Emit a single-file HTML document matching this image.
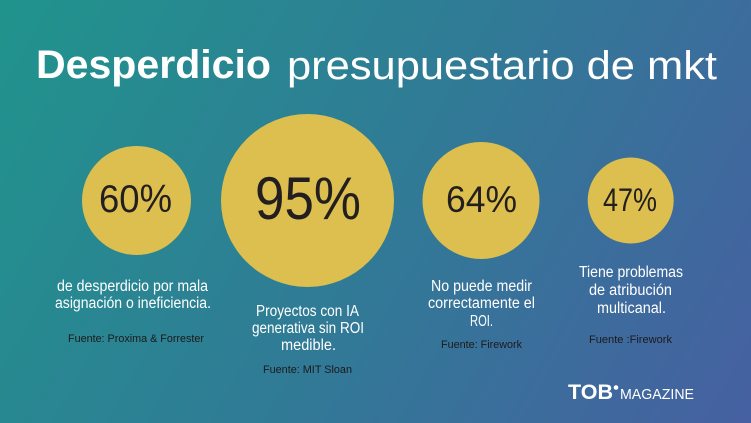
<!DOCTYPE html>
<html>
<head>
<meta charset="utf-8">
<style>
  html,body{margin:0;padding:0;width:751px;height:423px;overflow:hidden;}
  svg{display:block;}
  text{font-family:"Liberation Sans",Arial,sans-serif;}
</style>
</head>
<body>
<svg width="751" height="423" viewBox="0 0 751 423" xmlns="http://www.w3.org/2000/svg">
  <defs>
    <linearGradient id="bg" x1="0" y1="0" x2="751" y2="423" gradientUnits="userSpaceOnUse">
      <stop offset="0" stop-color="#20948c"/>
      <stop offset="0.5" stop-color="#307b96"/>
      <stop offset="1" stop-color="#4660a1"/>
    </linearGradient>
  </defs>
  <rect x="0" y="0" width="751" height="423" fill="url(#bg)"/>

  <!-- Title -->
  <text x="36" y="78" font-size="40" font-weight="bold" fill="#ffffff" textLength="235" lengthAdjust="spacingAndGlyphs">Desperdicio</text>
  <text x="287" y="79" font-size="40" fill="#ffffff" textLength="430" lengthAdjust="spacingAndGlyphs">presupuestario de mkt</text>

  <!-- Circles -->
  <circle cx="136.5" cy="200.5" r="54.5" fill="#dcbf4e"/>
  <circle cx="307.5" cy="200.5" r="86.5" fill="#dcbf4e"/>
  <circle cx="481" cy="200.5" r="58.5" fill="#dcbf4e"/>
  <circle cx="630.7" cy="200.5" r="43" fill="#dcbf4e"/>

  <!-- Percentages -->
  <text x="99" y="212" font-size="39" fill="#231f20" textLength="73" lengthAdjust="spacingAndGlyphs">60%</text>
  <text x="255" y="219" font-size="60" fill="#231f20" textLength="106" lengthAdjust="spacingAndGlyphs">95%</text>
  <text x="446" y="212" font-size="37" fill="#231f20" textLength="71" lengthAdjust="spacingAndGlyphs">64%</text>
  <text x="603" y="211" font-size="32" fill="#231f20" textLength="54" lengthAdjust="spacingAndGlyphs">47%</text>

  <!-- Block 1 -->
  <text x="57" y="291" font-size="15.5" fill="#ffffff" textLength="151" lengthAdjust="spacingAndGlyphs">de desperdicio por mala</text>
  <text x="55" y="308" font-size="15.5" fill="#ffffff" textLength="156" lengthAdjust="spacingAndGlyphs">asignación o ineficiencia.</text>
  <text x="68" y="342" font-size="11" fill="#1c1a1b" textLength="136" lengthAdjust="spacingAndGlyphs">Fuente: Proxima &amp; Forrester</text>

  <!-- Block 2 -->
  <text x="256" y="316" font-size="15.5" fill="#ffffff" textLength="103" lengthAdjust="spacingAndGlyphs">Proyectos con IA</text>
  <text x="252" y="333" font-size="15.5" fill="#ffffff" textLength="112" lengthAdjust="spacingAndGlyphs">generativa sin ROI</text>
  <text x="281" y="350" font-size="15.5" fill="#ffffff" textLength="55" lengthAdjust="spacingAndGlyphs">medible.</text>
  <text x="263" y="373" font-size="11" fill="#1c1a1b" textLength="89" lengthAdjust="spacingAndGlyphs">Fuente: MIT Sloan</text>

  <!-- Block 3 -->
  <text x="431" y="291" font-size="15.5" fill="#ffffff" textLength="101" lengthAdjust="spacingAndGlyphs">No puede medir</text>
  <text x="428" y="308" font-size="15.5" fill="#ffffff" textLength="107" lengthAdjust="spacingAndGlyphs">correctamente el</text>
  <text x="470" y="326" font-size="15.5" fill="#ffffff" textLength="23" lengthAdjust="spacingAndGlyphs">ROI.</text>
  <text x="441" y="348" font-size="11" fill="#1c1a1b" textLength="81" lengthAdjust="spacingAndGlyphs">Fuente: Firework</text>

  <!-- Block 4 -->
  <text x="579" y="277" font-size="15.5" fill="#ffffff" textLength="104" lengthAdjust="spacingAndGlyphs">Tiene problemas</text>
  <text x="589" y="295" font-size="15.5" fill="#ffffff" textLength="83" lengthAdjust="spacingAndGlyphs">de atribución</text>
  <text x="597" y="313" font-size="15.5" fill="#ffffff" textLength="69" lengthAdjust="spacingAndGlyphs">multicanal.</text>
  <text x="589" y="343" font-size="11" fill="#1c1a1b" textLength="83" lengthAdjust="spacingAndGlyphs">Fuente :Firework</text>

  <!-- Logo -->
  <text x="568" y="399" font-size="21" font-weight="bold" fill="#ffffff" textLength="45" lengthAdjust="spacingAndGlyphs">TOB</text>
  <circle cx="616" cy="387.5" r="2.3" fill="#ffffff"/>
  <text x="620" y="399" font-size="15" fill="#ffffff" textLength="74" lengthAdjust="spacingAndGlyphs">MAGAZINE</text>
</svg>
</body>
</html>
